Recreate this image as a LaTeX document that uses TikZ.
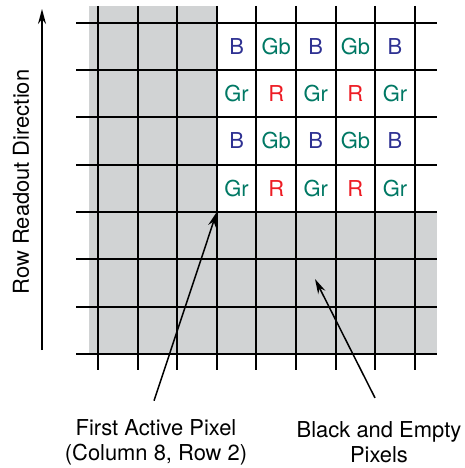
\documentclass[tikz,border=0pt]{standalone}
\usepackage{fontspec}
\setmainfont{TeX Gyre Heros}
\usetikzlibrary{arrows.meta}
\definecolor{pixgray}{RGB}{209,211,212}
\definecolor{pixblue}{RGB}{46,49,146}
\definecolor{pixgreen}{RGB}{0,120,100}
\definecolor{pixred}{RGB}{237,28,36}

\begin{document}
\begin{tikzpicture}[x=1bp,y=-1bp]

  \tikzstyle{every node}=[font=\fontsize{22}{25}\selectfont,align=center]
  \tikzstyle{gridline}=[line width=2bp]
  \tikzstyle{pointer}=[-{Stealth[length=15bp,width=8bp]},line width=1.5bp]
  \useasboundingbox (0,0) rectangle (465,468);

  % black and empty pixels
  \fill[pixgray] (89,6) rectangle (216.8,211.9);
  \fill[pixgray] (89,211.9) rectangle (437,353.8);

  \foreach \i in {0,...,8}
    \draw[gridline] ({98+39.6*\i},6) -- ({98+39.6*\i},370);
  \foreach \j in {0,...,7}
    \draw[gridline] (76,{22.7+47.3*\j}) -- (437,{22.7+47.3*\j});

  % colour filter pattern
  \foreach \k/\ev/\evc/\od/\odc in {0/B/pixblue/Gr/pixgreen,1/Gb/pixgreen/R/pixred,
      2/B/pixblue/Gr/pixgreen,3/Gb/pixgreen/R/pixred,4/B/pixblue/Gr/pixgreen} {
    \foreach \r in {0,2}
      \node[text=\evc] (px\r\k) at ({236.6+39.6*\k},{46.35+47.3*\r}) {\ev};
    \foreach \r in {1,3}
      \node[text=\odc] (px\r\k) at ({236.6+39.6*\k},{46.35+47.3*\r}) {\od};
  }

  \node[rotate=90] (readout) at (21,182) {Row Readout Direction};
  \coordinate (rbot) at (42,350);
  \coordinate (rtop) at (42,9);
  \draw[pointer] (rbot) -- (rtop);

  \node (fap) at (156,442) {First Active Pixel\\(Column 8, Row 2)};
  \node (bep) at (379,442) {Black and Empty\\Pixels};
  \coordinate (first) at (216.8,211.9);
  \coordinate (empty) at (315,279);

  \draw[pointer] ([xshift=-2bp,yshift=15bp]fap.north) -- (first);
  \draw[pointer] ([xshift=-4bp,yshift=20bp]bep.north) -- (empty);

\end{tikzpicture}
\end{document}
